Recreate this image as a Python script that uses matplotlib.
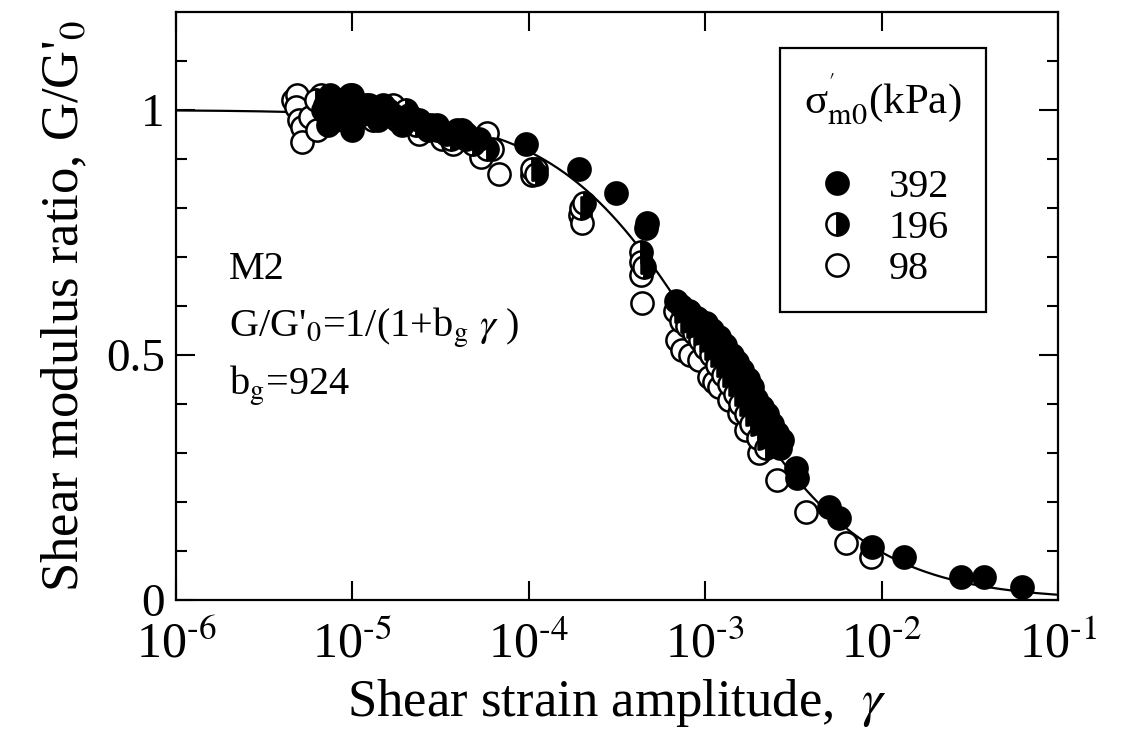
import numpy as np
import matplotlib
matplotlib.use("Agg")
import matplotlib.pyplot as plt
from matplotlib.lines import Line2D
from matplotlib.ticker import FixedLocator, NullLocator

plt.rcParams['font.family'] = ['Liberation Serif', 'DejaVu Serif']
plt.rcParams['mathtext.fontset'] = 'stix'
plt.rcParams['axes.unicode_minus'] = False

# fitted hyperbolic model
bg = 924

decades = [1e-6, 1e-5, 1e-4, 1e-3, 1e-2, 1e-1]
exps = ['-6', '-5', '-4', '-3', '-2', '-1']

# sigma'm0 = 392 kPa (filled)
x392 = [6.8e-6, 7.3e-6, 7.5e-6, 8.3e-6, 9.0e-6, 9.7e-6, 1.0e-5, 1.1e-5, 1.25e-5, 1.4e-5,
        1.5e-5, 1.7e-5, 1.9e-5, 2.1e-5, 2.4e-5, 2.7e-5, 3.0e-5, 3.4e-5, 3.9e-5, 4.4e-5,
        5.2e-5, 9.7e-5, 1.93e-4, 3.13e-4, 4.7e-4, 4.6e-4, 6.85e-4, 7.3e-4, 8.1e-4, 9.0e-4,
        1.01e-3, 1.1e-3, 1.2e-3, 1.3e-3, 1.42e-3, 1.52e-3, 1.62e-3, 1.75e-3, 1.85e-3, 1.95e-3,
        2.1e-3, 2.25e-3, 2.4e-3, 2.55e-3, 2.73e-3, 2.65e-3, 3.28e-3, 3.31e-3, 5.04e-3, 5.75e-3,
        8.85e-3, 1.34e-2, 2.83e-2, 3.81e-2, 6.27e-2]
y392 = [1.00, 0.97, 1.03, 0.99, 1.01, 1.03, 0.96, 0.99, 1.01, 0.98,
        1.01, 0.99, 0.97, 0.99, 0.98, 0.96, 0.97, 0.95, 0.96, 0.94,
        0.94, 0.93, 0.88, 0.83, 0.77, 0.76, 0.61, 0.60, 0.59, 0.575,
        0.565, 0.55, 0.537, 0.52, 0.50, 0.485, 0.47, 0.45, 0.435, 0.41,
        0.394, 0.38, 0.36, 0.34, 0.327, 0.31, 0.27, 0.25, 0.19, 0.167,
        0.108, 0.088, 0.047, 0.047, 0.027]

# sigma'm0 = 196 kPa (half filled)
x196 = [6.2e-6, 7.0e-6, 8.0e-6, 8.8e-6, 1.0e-5, 1.15e-5, 1.3e-5, 1.6e-5, 1.8e-5, 2.0e-5,
        2.3e-5, 2.6e-5, 3.0e-5, 3.6e-5, 4.2e-5, 4.8e-5, 5.8e-5, 1.04e-4, 1.1e-4, 1.98e-4,
        2.05e-4, 4.3e-4, 4.34e-4, 4.5e-4, 6.7e-4, 7.3e-4, 7.9e-4, 8.6e-4, 9.3e-4, 1.0e-3,
        1.08e-3, 1.17e-3, 1.26e-3, 1.36e-3, 1.47e-3, 1.58e-3, 1.7e-3, 1.83e-3, 2.0e-3, 2.2e-3]
y196 = [1.02, 1.01, 0.98, 1.02, 0.99, 1.00, 0.98, 1.00, 0.98, 1.00,
        0.97, 0.97, 0.96, 0.94, 0.96, 0.93, 0.92, 0.88, 0.87, 0.80,
        0.81, 0.71, 0.69, 0.68, 0.59, 0.57, 0.56, 0.545, 0.53, 0.515,
        0.50, 0.48, 0.46, 0.44, 0.42, 0.40, 0.38, 0.36, 0.33, 0.31]

# sigma'm0 = 98 kPa (open)
x98 = [4.6e-6, 4.85e-6, 4.8e-6, 5.0e-6, 5.2e-6, 5.2e-6, 5.75e-6, 6.3e-6, 6.6e-6, 7.2e-6,
       8.5e-6, 1.0e-5, 1.2e-5, 1.45e-5, 1.7e-5, 2.0e-5, 2.4e-5, 2.8e-5, 3.23e-5, 3.7e-5,
       4.4e-5, 5.37e-5, 5.8e-5, 6.2e-5, 6.8e-5, 1.04e-4, 1.1e-4, 1.95e-4, 2.0e-4, 4.3e-4,
       4.4e-4, 6.9e-4, 7.4e-4, 8.2e-4, 9.25e-4, 1.05e-3, 1.12e-3, 1.2e-3, 1.37e-3, 1.56e-3,
       1.71e-3, 2.02e-3, 2.56e-3, 3.73e-3, 6.3e-3, 8.7e-3]
y98 = [1.02, 1.03, 1.006, 0.98, 0.965, 0.935, 0.986, 0.96, 1.03, 0.99,
       1.02, 1.03, 1.01, 1.00, 1.01, 0.99, 0.95, 0.97, 0.94, 0.93,
       0.95, 0.905, 0.953, 0.92, 0.87, 0.867, 0.88, 0.785, 0.77, 0.663,
       0.606, 0.53, 0.51, 0.50, 0.49, 0.455, 0.445, 0.435, 0.408, 0.382,
       0.347, 0.30, 0.245, 0.18, 0.116, 0.088]

fig = plt.figure(figsize=(11.37, 7.31), dpi=100)
ax = fig.add_axes([0.1548, 0.1792, 0.7757, 0.8044])

gam = np.logspace(-6, -1, 400)
ax.plot(gam, 1 / (1 + bg * gam), color='black', lw=1.6, zorder=2)

ms = 16
mew = 1.8
ax.plot(x98, y98, 'o', ms=ms, mfc='white', mec='black', mew=mew, zorder=3)
ax.plot(x196, y196, 'o', ms=ms, fillstyle='left', mfc='white', mfcalt='black',
        mec='black', mew=mew, zorder=4)
ax.plot(x392, y392, 'o', ms=ms, mfc='black', mec='black', mew=mew, zorder=5)

ax.set_xscale('log')
ax.set_xlim(1e-6, 1e-1)
ax.set_ylim(0, 1.2)
ax.xaxis.set_major_locator(FixedLocator(decades))
ax.xaxis.set_minor_locator(NullLocator())
ax.set_xticklabels([r"10$^{\text{%s}}$" % e for e in exps])
ax.yaxis.set_major_locator(FixedLocator([0, 0.5, 1.0]))
ax.yaxis.set_minor_locator(FixedLocator([0.1, 0.2, 0.3, 0.4, 0.6, 0.7, 0.8, 0.9, 1.1]))
ax.set_yticklabels(['0', '0.5', '1'])

ax.tick_params(which='both', direction='in', top=True, right=True, width=1.5)
ax.tick_params(which='major', length=14)
ax.tick_params(which='minor', length=8)
ax.tick_params(axis='x', labelsize=36, pad=16)
ax.tick_params(axis='y', labelsize=34, pad=8)
for s in ax.spines.values():
    s.set_linewidth(1.6)

ax.set_xlabel(r"Shear strain amplitude,  $\gamma$", fontsize=38, labelpad=6)
ax.set_ylabel(r"Shear modulus ratio, G/G'$_0$", fontsize=38, labelpad=12)

ax.text(2.0e-6, 0.675, "M2", fontsize=29, va='center')
ax.text(2.0e-6, 0.555, r"G/G'$_0$=1/(1+b$_{\rm g}$ $\gamma$ )", fontsize=29, va='center')
ax.text(2.0e-6, 0.437, r"b$_{\rm g}$=924", fontsize=29, va='center')

handles = [
    Line2D([], [], ls='none', marker='o', ms=ms, mfc='black', mec='black', mew=mew),
    Line2D([], [], ls='none', marker='o', ms=ms, fillstyle='left', mfc='white',
           mfcalt='black', mec='black', mew=mew),
    Line2D([], [], ls='none', marker='o', ms=ms, mfc='white', mec='black', mew=mew),
]
leg = ax.legend(handles, ['392', '196', '98'],
                title="\u03c3" + r"$^{'}_{\rm m0}$(kPa)" + "\n",
                loc='upper left', bbox_to_anchor=(0.6848, 0.9388), borderaxespad=0,
                fontsize=29, title_fontsize=31, frameon=True, fancybox=False,
                framealpha=1, edgecolor='black', handletextpad=0.8, labelspacing=0.1,
                borderpad=0.6, handlelength=1.0)
leg.get_frame().set_linewidth(1.6)
leg.get_title().set_linespacing(0.95)

fig.savefig("out.png", dpi=100)
